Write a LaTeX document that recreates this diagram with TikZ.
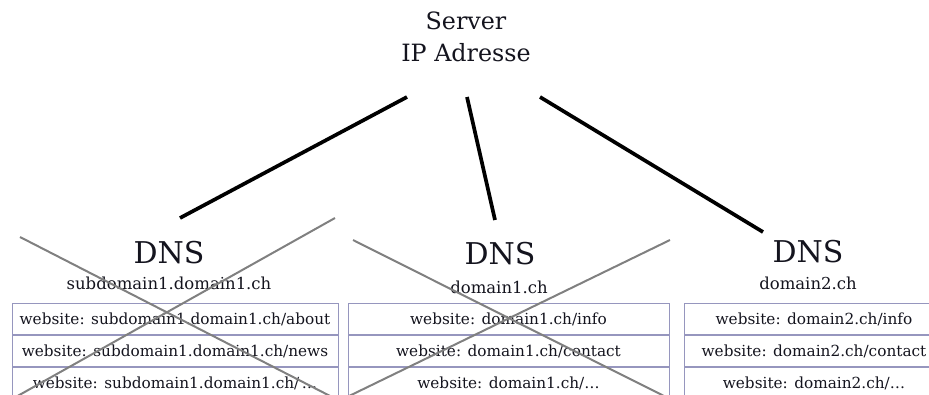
\documentclass[tikz,border=0pt]{standalone}
\usepackage{fontspec}
\setmainfont{DejaVu Serif}
\definecolor{txt}{RGB}{20,20,30}
\definecolor{cell}{RGB}{150,150,190}
\definecolor{crossc}{RGB}{128,128,128}
\begin{document}
\begin{tikzpicture}[x=1pt,y=-1pt,
  servertxt/.style={align=center,inner sep=0pt,text=txt,font=\fontsize{23.8}{32}\selectfont},
  dnstxt/.style={anchor=base,inner sep=0pt,text=txt,font=\fontsize{30}{36}\selectfont},
  domtxt/.style={anchor=base,inner sep=0pt,text=txt,font=\fontsize{16.5}{20}\selectfont},
  cellbox/.style={draw=cell,line width=1pt,minimum height=31pt,inner sep=0pt,text=txt,font=\fontsize{15.3}{18}\selectfont,anchor=north},
  link/.style={line width=3.7pt,black},
  strike/.style={line width=2pt,crossc}]
\useasboundingbox (0,0) rectangle (929,394);

\node[servertxt] (server) at (466,37) {Server\\IP Adresse};

% DNS groups
\node[dnstxt] (dns1) at (169,263) {DNS};
\node[domtxt] (dom1) at (169,289) {subdomain1.domain1.ch};
\node[dnstxt] (dns2) at (500,264) {DNS};
\node[domtxt] (dom2) at (499,293) {domain1.ch};
\node[dnstxt] (dns3) at (808,262) {DNS};
\node[domtxt] (dom3) at (808,289) {domain2.ch};

% tables
\node[cellbox,minimum width=326pt] (t1a) at (175,303) {website: subdomain1.domain1.ch/about};
\node[cellbox,minimum width=326pt] (t1b) at (t1a.south) {website: subdomain1.domain1.ch/news};
\node[cellbox,minimum width=326pt] (t1c) at (t1b.south) {website: subdomain1.domain1.ch/\,\dots};

\node[cellbox,minimum width=321pt] (t2a) at (508.5,303) {website: domain1.ch/info};
\node[cellbox,minimum width=321pt] (t2b) at (t2a.south) {website: domain1.ch/contact};
\node[cellbox,minimum width=321pt] (t2c) at (t2b.south) {website: domain1.ch/\dots};

\node[cellbox,minimum width=260pt] (t3a) at (814,303) {website: domain2.ch/info};
\node[cellbox,minimum width=260pt] (t3b) at (t3a.south) {website: domain2.ch/contact};
\node[cellbox,minimum width=260pt] (t3c) at (t3b.south) {website: domain2.ch/\dots};

% connectors
\coordinate (s1) at (407,97);
\coordinate (s2) at (467,97);
\coordinate (s3) at (540,97);
\coordinate (e1) at (180,218);
\coordinate (e2) at (495,220);
\coordinate (e3) at (763,232);
\draw[link] (s1) -- (e1);
\draw[link] (s2) -- (e2);
\draw[link] (s3) -- (e3);

% strike-out crosses
\draw[strike] (20,237) -- (334,398);
\draw[strike] (335,218) -- (14,398);
\draw[strike] (353,240) -- (668,398);
\draw[strike] (670,240) -- (345,398);
\end{tikzpicture}
\end{document}
